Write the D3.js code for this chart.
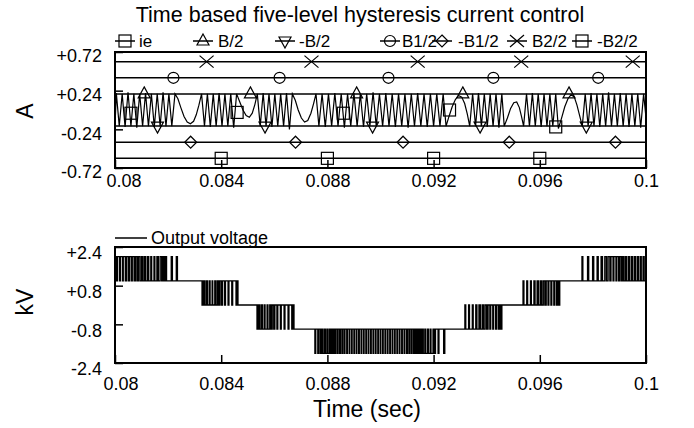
<!DOCTYPE html>
<html><head><meta charset="utf-8">
<script src="https://cdn.jsdelivr.net/npm/d3@7"></script>
<style>
body{margin:0;background:#fff}
svg{display:block}
text{font-family:"Liberation Sans",Arial,Helvetica,sans-serif;fill:#000}
</style>
</head><body>
<svg id="chart" width="694" height="428"></svg>
<script>
// ---------- DATA ----------
const chartTitle = "Time based five-level hysteresis current control";
const xTicks = [0.08, 0.084, 0.088, 0.092, 0.096, 0.1];
const xTickLabels = ["0.08", "0.084", "0.088", "0.092", "0.096", "0.1"];
const currentTicks = [0.72, 0.24, -0.24, -0.72];
const currentTickLabels = ["+0.72", "+0.24", "-0.24", "-0.72"];
const voltTicks = [2.4, 0.8, -0.8, -2.4];
const voltTickLabels = ["+2.4", "+0.8", "-0.8", "-2.4"];
const seriesNames = ["ie", "B/2", "-B/2", "B1/2", "-B1/2", "B2/2", "-B2/2"];
// hysteresis band levels (A) for B/2, -B/2, B1/2, -B1/2, B2/2, -B2/2
const bandLevels = [0.2, -0.2, 0.4, -0.4, 0.6, -0.6];
// marker times (ms) on each band line
const markB = [81.1, 85.1, 89.1, 93.1, 97.1];
const markNegB = [81.6, 85.65, 89.7, 93.75, 97.75];
const markB1 = [82.2, 86.2, 90.3, 94.25, 98.2];
const markNegB1 = [82.85, 86.8, 90.85, 94.85, 98.85];
const markB2 = [83.45, 87.4, 91.4, 95.3, 99.5];
const markNegB2 = [84.0, 88.0, 92.0, 96.0];
// ie markers [ms, A]
const markIe = [[80.6, -0.04], [84.6, -0.03], [88.6, -0.04], [92.6, 0.0], [96.6, -0.21]];

// inverter current ie [ms, A]
const ieData = [
[80.00,-0.2],[80.05,0.21],[80.16,-0.2],[80.27,0.2],[80.38,-0.21],[80.49,0.22],[80.60,-0.2],[80.71,0.2],[80.82,-0.22],[80.93,0.2],[81.04,-0.2],[81.15,0.21],[81.26,-0.2],[81.37,0.2],[81.48,-0.21],[81.59,0.2],[81.70,-0.2],[81.81,0.22],[81.92,-0.2],[82.03,0.2],[82.14,-0.2],[82.26,0.2],
[82.37,0.14],[82.48,0.03],[82.60,-0.08],[82.72,-0.15],[82.84,-0.17],[82.96,-0.14],[83.06,-0.06],[83.16,0.06],[83.26,0.2],
[83.37,-0.2],[83.48,0.2],[83.59,-0.21],[83.70,0.2],[83.81,-0.2],[83.92,0.21],[84.03,-0.2],[84.14,0.2],[84.25,-0.2],[84.36,0.2],[84.47,-0.22],[84.58,0.2],
[84.70,0.1],[84.82,0.0],[84.94,-0.07],[85.06,-0.09],[85.17,-0.04],[85.27,0.07],[85.36,0.2],
[85.47,-0.2],[85.58,0.21],[85.69,-0.2],[85.80,0.2],[85.91,-0.21],[86.02,0.2],[86.13,-0.2],[86.24,0.2],[86.35,-0.2],[86.46,0.21],[86.57,-0.24],[86.68,0.2],
[86.79,0.12],[86.90,0.0],[87.02,-0.1],[87.14,-0.15],[87.26,-0.13],[87.38,-0.04],[87.48,0.08],[87.57,0.2],
[87.68,-0.2],[87.80,0.2],[87.92,-0.21],[88.04,0.2],[88.16,-0.2],[88.28,0.21],[88.40,-0.2],[88.52,0.2],[88.64,-0.22],[88.76,0.2],[88.88,-0.2],[89.00,0.21],[89.12,-0.2],[89.24,0.2],[89.36,-0.21],[89.48,0.2],[89.60,-0.2],[89.72,0.22],[89.84,-0.2],[89.96,0.2],[90.08,-0.2],[90.20,0.21],[90.32,-0.2],[90.44,0.2],[90.56,-0.21],[90.68,0.2],[90.80,-0.2],[90.92,0.2],[91.04,-0.22],[91.16,0.2],[91.28,-0.2],[91.40,0.21],[91.52,-0.2],[91.64,0.2],[91.76,-0.21],[91.88,0.2],[92.00,-0.2],[92.12,0.2],[92.24,-0.2],[92.36,0.2],[92.47,-0.2],
[92.58,-0.08],[92.70,0.04],[92.82,0.13],[92.94,0.18],[93.06,0.16],[93.17,0.08],[93.27,-0.05],[93.36,-0.2],
[93.47,0.2],[93.58,-0.2],[93.69,0.21],[93.80,-0.2],[93.91,0.2],[94.02,-0.21],[94.13,0.2],[94.24,-0.2],[94.35,0.2],[94.46,-0.22],[94.57,0.2],[94.66,-0.2],
[94.78,-0.1],[94.90,0.02],[95.02,0.09],[95.13,0.1],[95.23,0.03],[95.31,-0.08],[95.39,-0.2],
[95.50,0.2],[95.61,-0.2],[95.72,0.21],[95.83,-0.2],[95.94,0.2],[96.05,-0.21],[96.16,0.2],[96.27,-0.2],[96.38,0.2],[96.49,-0.2],[96.60,0.2],[96.70,-0.23],
[96.82,-0.1],[96.94,0.04],[97.06,0.14],[97.18,0.19],[97.30,0.16],[97.40,0.06],[97.50,-0.07],[97.60,-0.2],
[97.71,0.2],[97.82,-0.2],[97.93,0.21],[98.04,-0.2],[98.15,0.2],[98.26,-0.21],[98.37,0.2],[98.48,-0.2],[98.59,0.22],[98.70,-0.2],[98.81,0.2],[98.92,-0.2],[99.03,0.21],[99.14,-0.2],[99.25,0.2],[99.36,-0.21],[99.47,0.2],[99.58,-0.2],[99.69,0.2],[99.80,-0.22],[99.91,0.2],[100.00,-0.1]
];

// output voltage steps [ms, kV] (level holds until next entry)
const voltSteps = [
[80.00,2],[80.06,1],[80.09,2],[80.17,1],[80.20,2],[80.28,1],[80.31,2],[80.39,1],[80.43,2],[80.50,1],[80.54,2],[80.61,1],[80.65,2],[80.72,1],[80.77,2],[80.83,1],[80.88,2],[80.94,1],[81.00,2],[81.05,1],[81.11,2],[81.16,1],[81.23,2],[81.27,1],[81.35,2],[81.38,1],[81.47,2],[81.50,1],[81.58,2],[81.63,1],[81.70,2],[81.76,1],[81.81,2],[81.86,1],[81.90,2],[81.94,1],[82.12,2],[82.16,1],[82.31,2],[82.35,1],
[83.28,0],[83.33,1],[83.38,0],[83.44,1],[83.48,0],[83.55,1],[83.58,0],[83.66,1],[83.68,0],[83.76,1],[83.79,0],[83.85,1],[83.90,0],[83.95,1],[84.01,0],[84.05,1],[84.13,0],[84.16,1],[84.26,0],[84.29,1],[84.40,0],[84.43,1],[84.56,0],[84.59,1],[84.63,0],
[85.35,-1],[85.40,0],[85.45,-1],[85.51,0],[85.55,-1],[85.62,0],[85.65,-1],[85.73,0],[85.76,-1],[85.83,0],[85.87,-1],[85.92,0],[85.98,-1],[86.02,0],[86.10,-1],[86.13,0],[86.23,-1],[86.26,0],[86.37,-1],[86.40,0],[86.52,-1],[86.55,0],[86.66,-1],[86.69,0],[86.74,-1],
[87.53,-2],[87.56,-1],[87.64,-2],[87.68,-1],[87.74,-2],[87.79,-1],[87.83,-2],[87.89,-1],[87.92,-2],[87.98,-1],[88.01,-2],[88.07,-1],[88.10,-2],[88.15,-1],[88.19,-2],[88.23,-1],[88.28,-2],[88.31,-1],[88.37,-2],[88.40,-1],[88.46,-2],[88.49,-1],[88.55,-2],[88.58,-1],[88.64,-2],[88.66,-1],[88.73,-2],[88.75,-1],[88.82,-2],[88.84,-1],[88.91,-2],[88.93,-1],[89.00,-2],[89.02,-1],[89.09,-2],[89.11,-1],[89.18,-2],[89.20,-1],[89.27,-2],[89.29,-1],[89.36,-2],[89.38,-1],[89.45,-2],[89.47,-1],[89.54,-2],[89.56,-1],[89.63,-2],[89.65,-1],[89.72,-2],[89.74,-1],[89.81,-2],[89.83,-1],[89.90,-2],[89.92,-1],[89.99,-2],[90.01,-1],[90.08,-2],[90.10,-1],[90.17,-2],[90.19,-1],[90.26,-2],[90.28,-1],[90.35,-2],[90.37,-1],[90.44,-2],[90.46,-1],[90.53,-2],[90.55,-1],[90.62,-2],[90.64,-1],[90.71,-2],[90.73,-1],[90.80,-2],[90.82,-1],[90.89,-2],[90.91,-1],[90.98,-2],[91.01,-1],[91.07,-2],[91.10,-1],[91.16,-2],[91.19,-1],[91.25,-2],[91.29,-1],[91.34,-2],[91.38,-1],[91.43,-2],[91.48,-1],[91.52,-2],[91.57,-1],[91.61,-2],[91.67,-1],[91.70,-2],[91.77,-1],[91.80,-2],[91.87,-1],[91.90,-2],[91.98,-1],[92.02,-2],[92.07,-1],[92.17,-2],[92.20,-1],[92.38,-2],[92.42,-1],
[93.18,0],[93.21,-1],[93.32,0],[93.35,-1],[93.46,0],[93.49,-1],[93.59,0],[93.63,-1],[93.71,0],[93.76,-1],[93.83,0],[93.88,-1],[93.94,0],[94.00,-1],[94.05,0],[94.12,-1],[94.15,0],[94.23,-1],[94.26,0],[94.34,-1],[94.37,0],[94.44,-1],[94.49,0],[94.53,-1],[94.57,0],
[95.37,1],[95.40,0],[95.51,1],[95.54,0],[95.65,1],[95.68,0],[95.78,1],[95.82,0],[95.90,1],[95.95,0],[96.02,1],[96.07,0],[96.13,1],[96.19,0],[96.24,1],[96.31,0],[96.34,1],[96.42,0],[96.45,1],[96.53,0],[96.56,1],[96.63,0],[96.67,1],[96.71,0],[96.75,1],
[97.59,2],[97.62,1],[97.80,2],[97.84,1],[97.99,2],[98.03,1],[98.16,2],[98.20,1],[98.31,2],[98.36,1],[98.45,2],[98.51,1],[98.57,2],[98.64,1],[98.68,2],[98.76,1],[98.79,2],[98.87,1],[98.90,2],[98.97,1],[99.01,2],[99.07,1],[99.12,2],[99.17,1],[99.23,2],[99.27,1],[99.34,2],[99.38,1],[99.45,2],[99.49,1],[99.56,2],[99.60,1],[99.67,2],[99.71,1],[99.78,2],[99.82,1],[99.89,2],[99.93,1],[100.00,1]
];

// ---------- LAYOUT ----------
const svg = d3.select("#chart");
const L = 115, R = 646;
const top1 = 52, bot1 = 168, top2 = 247, bot2 = 363;
const ms = t => t / 1000;

const x = d3.scaleLinear().domain([0.08, 0.1]).range([L, R]);
const yI = d3.scaleLinear().domain([-0.72, 0.72]).range([bot1, top1]);
const yV = d3.scaleLinear().domain([-2.4, 2.4]).range([bot2, top2]);

const defs = svg.append("defs");
defs.append("clipPath").attr("id", "clip1").append("rect").attr("x", L).attr("y", top1).attr("width", R - L).attr("height", bot1 - top1);
defs.append("clipPath").attr("id", "clip2").append("rect").attr("x", L).attr("y", top2).attr("width", R - L).attr("height", bot2 - top2);

// title
svg.append("text").attr("x", 360).attr("y", 22).attr("text-anchor", "middle")
  .style("font-size", "21.5px").text(chartTitle);

// marker drawing
function drawMarker(g, type, cx, cy) {
  const s = g.append("g").attr("transform", `translate(${cx},${cy})`)
    .attr("fill", "none").attr("stroke", "#000").attr("stroke-width", 1.2);
  if (type === "square") s.append("rect").attr("x", -6).attr("y", -6).attr("width", 12).attr("height", 12);
  else if (type === "tri") s.append("path").attr("d", "M0,-7L6,4L-6,4Z");
  else if (type === "itri") s.append("path").attr("d", "M0,7L6,-4L-6,-4Z");
  else if (type === "circle") s.append("circle").attr("r", 5.5);
  else if (type === "diamond") s.append("path").attr("d", "M0,-6L6,0L0,6L-6,0Z");
  else if (type === "x") s.append("path").attr("d", "M-7,-6L7,6M-7,6L7,-6");
}
const markerTypes = ["square", "tri", "itri", "circle", "diamond", "x", "square"];

// ---------- TOP PLOT ----------
const g1 = svg.append("g");
const p1 = g1.append("g").attr("clip-path", "url(#clip1)");
bandLevels.forEach(v => {
  p1.append("line").attr("x1", L).attr("x2", R).attr("y1", yI(v)).attr("y2", yI(v))
    .attr("stroke", "#000").attr("stroke-width", 1.5);
});
p1.append("path").datum(ieData)
  .attr("d", d3.line().x(d => x(ms(d[0]))).y(d => yI(d[1])))
  .attr("fill", "none").attr("stroke", "#000").attr("stroke-width", 1.2);
const bandMarks = [markB, markNegB, markB1, markNegB1, markB2, markNegB2];
bandMarks.forEach((arr, i) => {
  arr.forEach(t => drawMarker(p1, markerTypes[i + 1], x(ms(t)), yI(bandLevels[i])));
});
markIe.forEach(d => drawMarker(p1, "square", x(ms(d[0])), yI(d[1])));

const ax1 = g1.append("g").attr("transform", `translate(0,${bot1})`)
  .call(d3.axisBottom(x).tickValues(xTicks).tickSize(-8).tickSizeOuter(0).tickPadding(6)
    .tickFormat((d, i) => xTickLabels[i]));
const ay1 = g1.append("g").attr("transform", `translate(${L},0)`)
  .call(d3.axisLeft(yI).tickValues(currentTicks).tickSize(-8).tickSizeOuter(0).tickPadding(13)
    .tickFormat((d, i) => currentTickLabels[i]));
g1.append("rect").attr("x", L).attr("y", top1).attr("width", R - L).attr("height", bot1 - top1)
  .attr("fill", "none").attr("stroke", "#000").attr("stroke-width", 2);

// ---------- BOTTOM PLOT ----------
const g2 = svg.append("g");
const p2 = g2.append("g").attr("clip-path", "url(#clip2)");
p2.append("path").datum(voltSteps)
  .attr("d", d3.line().curve(d3.curveStepAfter).x(d => x(ms(d[0]))).y(d => yV(d[1])))
  .attr("fill", "none").attr("stroke", "#000").attr("stroke-width", 1.4);

const ax2 = g2.append("g").attr("transform", `translate(0,${bot2})`)
  .call(d3.axisBottom(x).tickValues(xTicks).tickSize(-8).tickSizeOuter(0).tickPadding(14)
    .tickFormat((d, i) => xTickLabels[i]));
const ay2 = g2.append("g").attr("transform", `translate(${L},0)`)
  .call(d3.axisLeft(yV).tickValues(voltTicks).tickSize(-8).tickSizeOuter(0).tickPadding(13)
    .tickFormat((d, i) => voltTickLabels[i]));
g2.append("rect").attr("x", L).attr("y", top2).attr("width", R - L).attr("height", bot2 - top2)
  .attr("fill", "none").attr("stroke", "#000").attr("stroke-width", 2);

[ax1, ay1, ax2, ay2].forEach(a => {
  a.select(".domain").remove();
  a.selectAll(".tick line").attr("stroke", "#000").attr("stroke-width", 1.5);
  a.selectAll("text").style("font-size", "18px").attr("fill", "#000")
    .style("font-family", "'Liberation Sans', Arial, sans-serif");
});
ax1.selectAll(".tick text").filter((d, i) => i === 0).attr("text-anchor", "start").attr("x", -9);
ax2.selectAll(".tick text").filter((d, i) => i === 0).attr("text-anchor", "start").attr("x", -12);
ay1.selectAll(".tick text").attr("y", 4);
ay2.selectAll(".tick text").attr("y", 6);

// axis titles (rotated)
svg.append("text").attr("x", 33).attr("y", 111).attr("transform", "rotate(-90 33 111)")
  .attr("text-anchor", "middle").style("font-size", "23px").text("A");
svg.append("text").attr("x", 33).attr("y", 302).attr("transform", "rotate(-90 33 302)")
  .attr("text-anchor", "middle").style("font-size", "23px").text("kV");
svg.append("text").attr("x", 367).attr("y", 417).attr("text-anchor", "middle")
  .style("font-size", "23px").text("Time (sec)");

// ---------- LEGENDS ----------
const legPos = [[125, 139], [203, 218], [285, 299], [390, 402], [442, 458], [517, 532], [582, 597]];
const legY = 41;
seriesNames.forEach((name, i) => {
  const [mx, tx] = legPos[i];
  svg.append("line").attr("x1", mx - 10).attr("x2", mx + 10).attr("y1", legY).attr("y2", legY)
    .attr("stroke", "#000").attr("stroke-width", 1.5);
  drawMarker(svg, markerTypes[i], mx, legY);
  svg.append("text").attr("x", tx).attr("y", legY + 6).style("font-size", "17px").text(name);
});
svg.append("line").attr("x1", 115).attr("x2", 147).attr("y1", 238).attr("y2", 238)
  .attr("stroke", "#000").attr("stroke-width", 1.5);
svg.append("text").attr("x", 151).attr("y", 244).style("font-size", "18px").text("Output voltage");
</script>
</body></html>
